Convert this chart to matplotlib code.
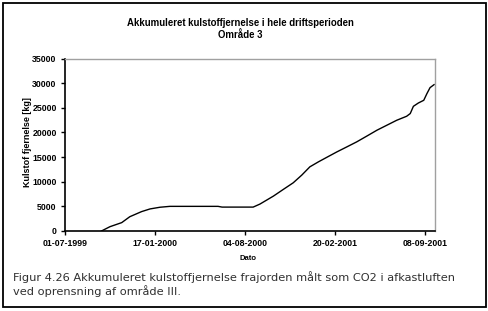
import matplotlib
matplotlib.use("Agg")
import matplotlib.pyplot as plt
from matplotlib.patches import Rectangle
import datetime as dt

# ---- data ----
dates = ["1999-09-20", "1999-10-09", "1999-11-04", "1999-11-22", "1999-12-18",
         "2000-01-06", "2000-01-28", "2000-02-19", "2000-06-05", "2000-06-14",
         "2000-08-22", "2000-09-06", "2000-09-21", "2000-10-06", "2000-10-28",
         "2000-11-19", "2000-12-08", "2000-12-26", "2001-01-14", "2001-02-01",
         "2001-02-24", "2001-03-18", "2001-04-09", "2001-05-01", "2001-05-24",
         "2001-06-15", "2001-07-07", "2001-07-29", "2001-08-06", "2001-08-13",
         "2001-08-24", "2001-09-05", "2001-09-12", "2001-09-19", "2001-09-28"]
values = [0, 880, 1700, 2900, 3930,
          4480, 4820, 5000, 5000, 4850,
          4850, 5460, 6270, 7080, 8440,
          9780, 11340, 13020, 14030, 14920,
          16050, 17060, 18080, 19230, 20450,
          21460, 22470, 23280, 23830, 25300,
          25970, 26520, 27870, 29090, 29700]
tick_dates = ["1999-07-01", "2000-01-17", "2000-08-04", "2001-02-20", "2001-09-08"]
tick_labels = ["01-07-1999", "17-01-2000", "04-08-2000", "20-02-2001", "08-09-2001"]
y_ticks = [0, 5000, 10000, 15000, 20000, 25000, 30000, 35000]

title = "Akkumuleret kulstoffjernelse i hele driftsperioden\nOmråde 3"
xlabel = "Dato"
ylabel = "Kulstof fjernelse [kg]"
caption = ("Figur 4.26 Akkumuleret kulstoffjernelse frajorden målt som CO2 i afkastluften\n"
           "ved oprensning af område III.")

W, H = 489, 311
fig = plt.figure(figsize=(W / 100, H / 100), dpi=100)
fig.patch.set_facecolor("white")

ax = fig.add_axes([65 / W, 1 - 231 / H, (435 - 65) / W, (231 - 58.5) / H])

x = [dt.datetime.strptime(d, "%Y-%m-%d") for d in dates]
ax.plot(x, values, color="black", lw=1.0)

ax.set_xlim(dt.datetime(1999, 7, 1), dt.datetime(2001, 9, 30))
ax.set_ylim(0, 35000)
ax.set_xticks([dt.datetime.strptime(d, "%Y-%m-%d") for d in tick_dates])
ax.set_xticklabels(tick_labels)
ax.set_yticks(y_ticks)
ax.set_yticklabels([str(v) for v in y_ticks])

for lab in ax.get_xticklabels() + ax.get_yticklabels():
    lab.set_fontfamily("Liberation Sans")
    lab.set_fontweight("bold")
    lab.set_fontsize(6.3)
ax.tick_params(axis="both", direction="out", length=3, width=1, color="black", pad=3)

for side in ["top", "right"]:
    ax.spines[side].set_color("#a0a0a0")
    ax.spines[side].set_linewidth(1)
for side in ["left", "bottom"]:
    ax.spines[side].set_color("black")
    ax.spines[side].set_linewidth(1.2)

fig.text(240 / W, 1 - 29 / H, title, ha="center", va="center", fontsize=6.9,
         fontweight="bold", family="Liberation Sans", linespacing=1.3)
fig.text(248 / W, 1 - 258 / H, xlabel, ha="center", va="center", fontsize=5.5,
         fontweight="bold", family="Liberation Sans")
fig.text(28 / W, 1 - 142 / H, ylabel, ha="center", va="center", fontsize=6.5,
         fontweight="bold", family="Liberation Sans", rotation=90)
fig.text(13 / W, 1 - 284 / H, caption, ha="left", va="center", fontsize=8.2,
         family="DejaVu Sans", color="#303030", linespacing=1.3)

fig.patches.append(Rectangle((3 / W, 1 - 307 / H), (486 - 3) / W, (307 - 3) / H,
                             transform=fig.transFigure, fill=False,
                             edgecolor="black", lw=1.3))

fig.savefig("out.png", dpi=100)
